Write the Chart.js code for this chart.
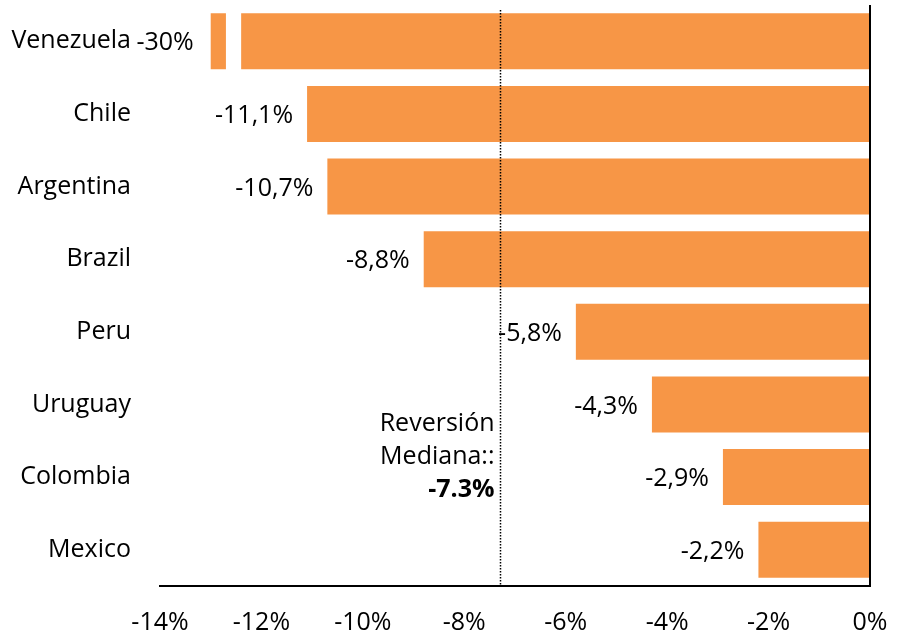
<!DOCTYPE html>
<html>
<head>
<meta charset="utf-8">
<script src="https://cdn.jsdelivr.net/npm/chart.js@4.4.1/dist/chart.umd.min.js"></script>
<style>
    html, body { margin: 0; padding: 0; background: #fff; }
    #wrap { width: 898px; height: 642px; position: relative; }
</style>
</head>
<body>
<div id="wrap"><canvas id="reversalChart"></canvas></div>
<script>
(function () {
    'use strict';

    const countries = ['Venezuela', 'Chile', 'Argentina', 'Brazil', 'Peru', 'Uruguay', 'Colombia', 'Mexico'];
    const reversal = [-30, -11.1, -10.7, -8.8, -5.8, -4.3, -2.9, -2.2];
    const xTicks = [-14, -12, -10, -8, -6, -4, -2, 0];
    const median = -7.3;
    const medianLines = ['Reversión', 'Mediana::', '-7.3%'];

    // values beyond the axis are cut at breakAt and drawn with a gap
    const breakAt = -13;
    const gapFrom = -12.7;
    const gapTo = -12.4;

    const FONT = '"Open Sans", "Noto Sans", sans-serif';
    const SIZE = 25;
    const ORANGE = '#F79646';

    function fmtPct(v) {
        return (Number.isInteger(v) ? String(v) : v.toFixed(1).replace('.', ',')) + '%';
    }

    const barData = reversal.map(v => [Math.max(v, breakAt), 0]);

    const overlay = {
        id: 'overlay',
        afterDatasetsDraw(chart) {
            const ctx = chart.ctx;
            const x = chart.scales.x;
            const y = chart.scales.y;
            const meta = chart.getDatasetMeta(0);
            const area = chart.chartArea;

            ctx.save();

            // axis break on truncated bars
            reversal.forEach((v, i) => {
                if (v >= breakAt) return;
                const bar = meta.data[i];
                const h = bar.height;
                ctx.fillStyle = '#fff';
                ctx.fillRect(x.getPixelForValue(gapFrom), bar.y - h / 2 - 1,
                    x.getPixelForValue(gapTo) - x.getPixelForValue(gapFrom), h + 2);
            });

            // value labels left of each bar's start
            ctx.font = SIZE + 'px ' + FONT;
            ctx.fillStyle = '#000';
            ctx.textAlign = 'right';
            ctx.textBaseline = 'middle';
            reversal.forEach((v, i) => {
                const bar = meta.data[i];
                const off = v < breakAt ? 17 : 14;
                ctx.fillText(fmtPct(v), x.getPixelForValue(Math.max(v, breakAt)) - off, bar.y + 2);
            });

            // median reference line
            const mx = Math.round(x.getPixelForValue(median)) + 0.5;
            ctx.strokeStyle = '#000';
            ctx.lineWidth = 1.5;
            ctx.setLineDash([1.5, 1.5]);
            ctx.beginPath();
            ctx.moveTo(mx, area.top + 5);
            ctx.lineTo(mx, area.bottom);
            ctx.stroke();
            ctx.setLineDash([]);

            const baseY = y.getPixelForValue(5) + 19;
            medianLines.forEach((t, k) => {
                ctx.font = (k === 2 ? 'bold ' : '') + SIZE + 'px ' + FONT;
                ctx.fillText(t, mx - 6, baseY + k * 33);
            });

            // right-hand zero axis
            ctx.lineWidth = 2;
            ctx.beginPath();
            ctx.moveTo(area.right, area.top);
            ctx.lineTo(area.right, area.bottom);
            ctx.stroke();

            ctx.restore();
        }
    };

    function noPad(s) {
        s.paddingTop = 0;
        s.paddingBottom = 0;
        s.paddingLeft = 0;
        s.paddingRight = 0;
    }

    new Chart(document.getElementById('reversalChart'), {
        type: 'bar',
        data: {
            labels: countries,
            datasets: [{
                data: barData,
                backgroundColor: ORANGE,
                borderWidth: 0,
                categoryPercentage: 0.77,
                barPercentage: 1
            }]
        },
        options: {
            indexAxis: 'y',
            responsive: true,
            maintainAspectRatio: false,
            animation: false,
            layout: { padding: { top: 5, right: 28, left: 0, bottom: 0 } },
            plugins: {
                legend: { display: false },
                tooltip: { enabled: false }
            },
            scales: {
                x: {
                    min: -14,
                    max: 0,
                    afterBuildTicks: s => { s.ticks = xTicks.map(v => ({ value: v })); },
                    afterFit: s => { s.height = 56; noPad(s); },
                    grid: { display: false, drawTicks: false },
                    border: { display: true, color: '#000', width: 2 },
                    ticks: {
                        padding: 22,
                        maxRotation: 0,
                        color: '#000',
                        font: { family: FONT, size: SIZE },
                        callback: v => v + '%'
                    }
                },
                y: {
                    afterFit: s => { s.width = 160; noPad(s); },
                    grid: { display: false, drawTicks: false },
                    border: { display: false },
                    ticks: {
                        padding: 29,
                        color: '#000',
                        font: { family: FONT, size: SIZE }
                    }
                }
            }
        },
        plugins: [overlay]
    });
})();
</script>
</body>
</html>
